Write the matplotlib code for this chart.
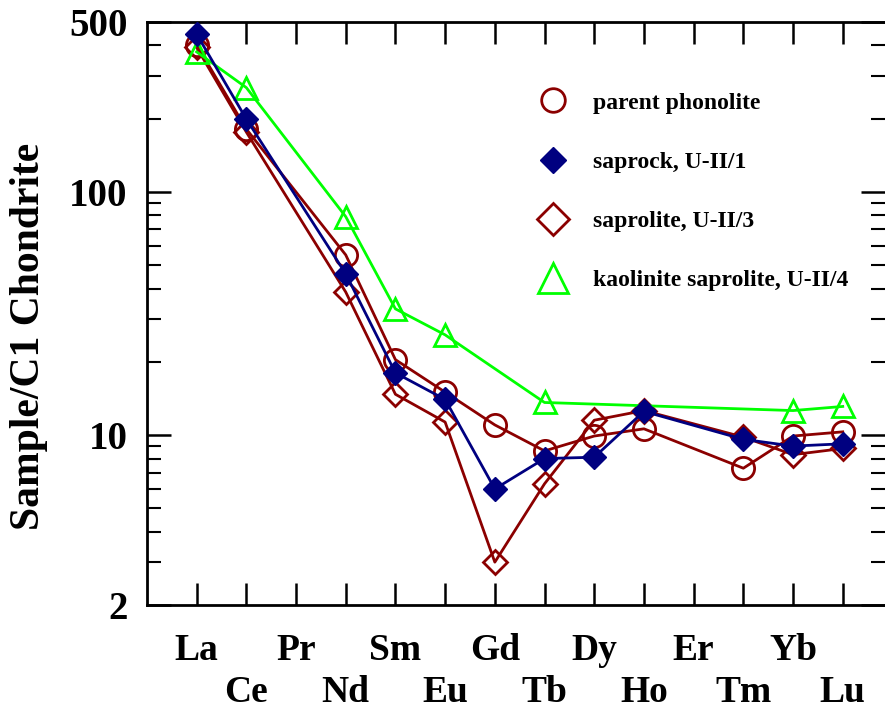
import numpy as np
import matplotlib.pyplot as plt
from matplotlib.lines import Line2D
from matplotlib.ticker import FixedLocator, NullFormatter

# REE order, chondrite-normalised
elements = ['La', 'Ce', 'Pr', 'Nd', 'Sm', 'Eu', 'Gd', 'Tb', 'Dy', 'Ho', 'Er', 'Tm', 'Yb', 'Lu']

# parent phonolite
phon_el = ['La', 'Ce', 'Nd', 'Sm', 'Eu', 'Gd', 'Tb', 'Dy', 'Ho', 'Tm', 'Yb', 'Lu']
phon_val = [402, 181, 55, 20.4, 15.0, 11.0, 8.6, 9.9, 10.6, 7.3, 9.9, 10.3]

# saprock U-II/1
sapk_el = ['La', 'Ce', 'Nd', 'Sm', 'Eu', 'Gd', 'Tb', 'Dy', 'Ho', 'Tm', 'Yb', 'Lu']
sapk_val = [445, 199, 46, 18.0, 14.0, 6.0, 8.0, 8.1, 12.5, 9.6, 9.0, 9.2]

# saprolite U-II/3
sapl_el = ['La', 'Ce', 'Nd', 'Sm', 'Eu', 'Gd', 'Tb', 'Dy', 'Ho', 'Tm', 'Yb', 'Lu']
sapl_val = [392, 176, 38.7, 14.7, 11.3, 3.0, 6.3, 11.5, 12.6, 9.8, 8.3, 8.8]

# kaolinite saprolite U-II/4
kaol_el = ['La', 'Ce', 'Nd', 'Sm', 'Eu', 'Tb', 'Yb', 'Lu']
kaol_val = [376, 268, 79, 33, 25.8, 13.6, 12.6, 13.1]

red = '#8B0000'
navy = '#000080'
green = '#00FF00'
serif = ['Liberation Serif', 'DejaVu Serif']

plt.rcParams['font.family'] = serif
plt.rcParams['font.weight'] = 'bold'

pos = {e: i + 1 for i, e in enumerate(elements)}

fig = plt.figure(figsize=(8.85, 7.13), dpi=100)
ax = fig.add_axes([0.166, 0.1515, 0.834, 0.818])

ax.plot([pos[e] for e in phon_el], phon_val, color=red, lw=2, marker='o', ms=16,
        mfc='none', mec=red, mew=2, zorder=3)
ax.plot([pos[e] for e in sapl_el], sapl_val, color=red, lw=2, marker='D', ms=12,
        mfc='none', mec=red, mew=2, zorder=3)
ax.plot([pos[e] for e in kaol_el], kaol_val, color=green, lw=2, marker='^', ms=16,
        mfc='none', mec=green, mew=2, zorder=3)
ax.plot([pos[e] for e in sapk_el], sapk_val, color=navy, lw=2, marker='D', ms=12,
        mfc=navy, mec=navy, zorder=4)

ax.set_yscale('log')
ax.set_ylim(2, 500)
ax.set_xlim(0, 14.85)

ax.yaxis.set_major_locator(FixedLocator([2, 10, 100, 500]))
ax.yaxis.set_minor_locator(FixedLocator([3, 4, 5, 6, 7, 8, 9, 20, 30, 40, 50, 60, 70, 80, 90,
                                         200, 300, 400]))
ax.yaxis.set_minor_formatter(NullFormatter())
ax.set_yticklabels(['2', '10', '100', '500'])

ax.set_xticks([pos[e] for e in elements])
ax.set_xticklabels([e if i % 2 == 0 else '\n' + e for i, e in enumerate(elements)],
                   linespacing=1.25, fontsize=27)

ax.tick_params(axis='both', which='major', direction='in', length=17, width=1.8,
               top=True, right=True)
ax.tick_params(axis='y', which='major', labelsize=28, pad=14)
ax.tick_params(axis='y', which='minor', direction='in', length=10, width=1.5, right=True)
ax.tick_params(axis='x', which='major', pad=20, length=16)

ax.spines['right'].set_visible(False)
for s in ['left', 'top', 'bottom']:
    ax.spines[s].set_linewidth(2)

ax.set_ylabel('Sample/C1 Chondrite', fontsize=30, fontweight='bold')
ax.yaxis.set_label_coords(-0.134, 0.46)

handles = [
    Line2D([], [], ls='none', marker='o', ms=17, mfc='none', mec=red, mew=2),
    Line2D([], [], ls='none', marker='D', ms=13, mfc=navy, mec=navy),
    Line2D([], [], ls='none', marker='D', ms=16, mfc='none', mec=red, mew=2),
    Line2D([], [], ls='none', marker='^', ms=21, mfc='none', mec=green, mew=2),
]
labels = ['parent phonolite', 'saprock, U-II/1', 'saprolite, U-II/3',
          'kaolinite saprolite, U-II/4']
ax.legend(handles, labels, loc='upper left', bbox_to_anchor=(0.497, 0.916), frameon=False,
          labelspacing=1.6, handletextpad=0.95, handlelength=1.5,
          prop={'family': serif, 'weight': 'bold', 'size': 17})

fig.savefig('out.png', dpi=100)
